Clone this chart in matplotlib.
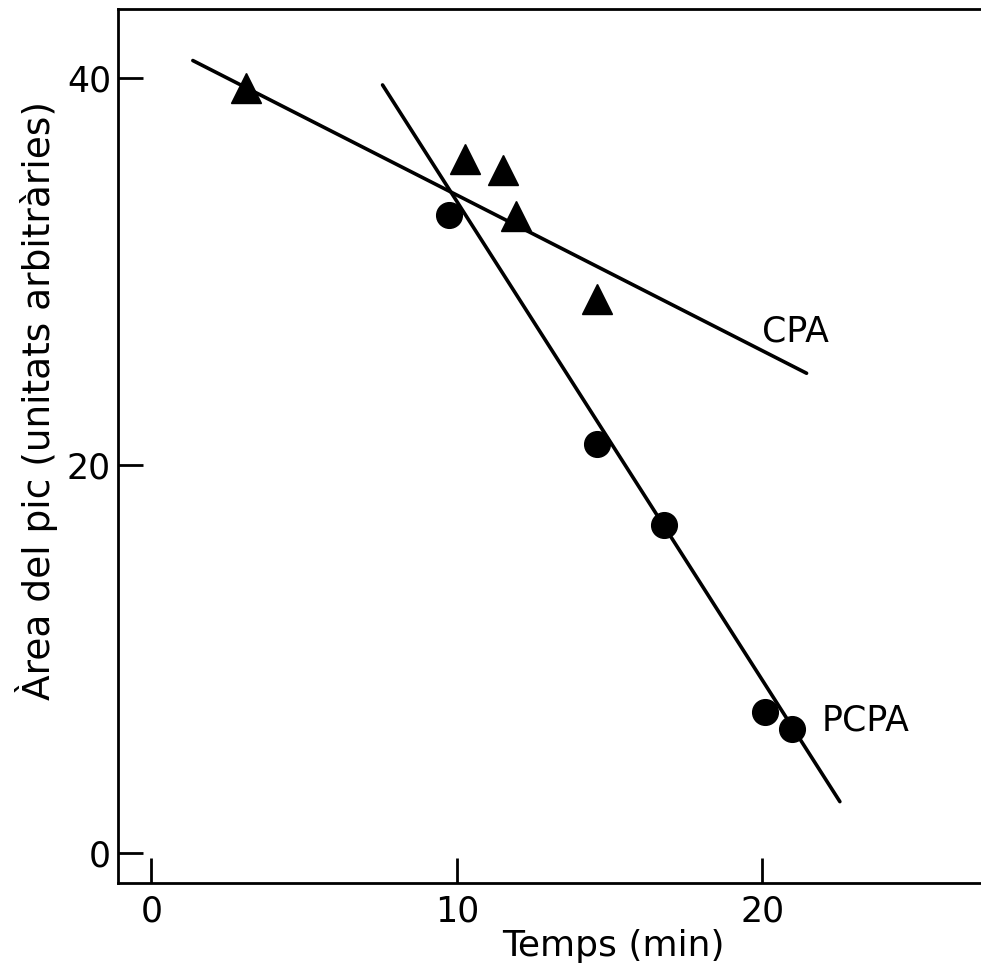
import matplotlib
matplotlib.use("Agg")
import matplotlib.pyplot as plt

plt.rcParams['font.family'] = ['DejaVu Sans']

# ----------- 数据（读自图像） -----------
cpa_t = [3.10, 10.26, 11.50, 11.94, 14.59]
cpa_area = [39.5, 35.8, 35.25, 32.9, 28.6]
pcpa_t = [9.73, 14.58, 16.77, 20.09, 20.96]
pcpa_area = [32.95, 21.1, 16.95, 7.3, 6.4]

cpa_fit_t = [1.36, 21.45]
cpa_fit_area = [40.9, 24.76]
pcpa_fit_t = [7.57, 22.54]
pcpa_fit_area = [39.64, 2.65]

xticks = [0, 10, 20]
yticks = [0, 20, 40]

W, H = 981, 976
fig = plt.figure(figsize=(W / 100, H / 100), dpi=100)
ax = fig.add_axes([118 / W, 1 - 883 / H, (W - 118) / W, (883 - 9) / H])

ax.plot(cpa_fit_t, cpa_fit_area, color='black', lw=2.6, solid_capstyle='round')
ax.plot(pcpa_fit_t, pcpa_fit_area, color='black', lw=2.6, solid_capstyle='round')
ax.plot(cpa_t, cpa_area, linestyle='none', marker='^', ms=21, color='black')
ax.plot(pcpa_t, pcpa_area, linestyle='none', marker='o', ms=18.5, color='black')

ax.text(20.0, 26.9, 'CPA', fontsize=25, va='center', ha='left')
ax.text(21.95, 6.86, 'PCPA', fontsize=25, va='center', ha='left')

ax.set_xlim(-1.09, 27.16)
ax.set_ylim(-1.55, 43.56)
ax.set_xticks(xticks)
ax.set_yticks(yticks)
ax.tick_params(axis='x', direction='in', length=18, width=2, labelsize=25, pad=8)
ax.tick_params(axis='y', direction='in', length=18, width=2, labelsize=25, pad=5)
ax.spines['right'].set_visible(False)
for s in ('left', 'bottom', 'top'):
    ax.spines[s].set_linewidth(2)

fig.text(613 / W, 1 - 946 / H, 'Temps (min)', fontsize=26, ha='center', va='center')
fig.text(37 / W, 1 - 400 / H, 'Àrea del pic (unitats arbitràries)', fontsize=27,
         ha='center', va='center', rotation=90)

fig.savefig('out.png', dpi=100)
